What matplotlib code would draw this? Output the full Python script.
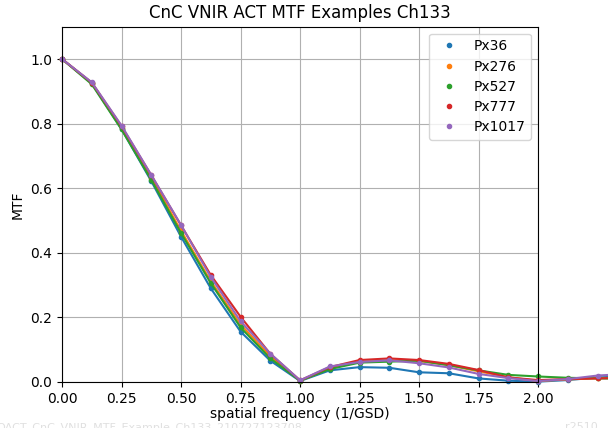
import numpy as np
import matplotlib
matplotlib.use('Agg')
import matplotlib.pyplot as plt

# spatial frequency samples (1/GSD)
freq = [0.0, 0.125, 0.25, 0.375, 0.5, 0.625, 0.75, 0.875, 1.0, 1.125,
        1.25, 1.375, 1.5, 1.625, 1.75, 1.875, 2.0, 2.125, 2.25, 2.375]

px36 = [1.0, 0.925, 0.783, 0.622, 0.450, 0.290, 0.156, 0.066, 0.003, 0.036,
        0.046, 0.044, 0.030, 0.027, 0.011, 0.004, 0.001, 0.006, 0.014, 0.018]
px276 = [1.0, 0.926, 0.788, 0.632, 0.468, 0.312, 0.178, 0.080, 0.004, 0.042,
         0.063, 0.068, 0.065, 0.052, 0.033, 0.015, 0.003, 0.008, 0.012, 0.014]
px527 = [1.0, 0.922, 0.782, 0.626, 0.461, 0.306, 0.169, 0.073, 0.004, 0.040,
         0.060, 0.063, 0.066, 0.052, 0.036, 0.022, 0.017, 0.013, 0.011, 0.010]
px777 = [1.0, 0.927, 0.792, 0.640, 0.485, 0.331, 0.202, 0.087, 0.005, 0.046,
         0.068, 0.073, 0.068, 0.056, 0.037, 0.014, 0.006, 0.009, 0.011, 0.013]
px1017 = [1.0, 0.928, 0.794, 0.641, 0.486, 0.325, 0.188, 0.088, 0.005, 0.048,
          0.062, 0.067, 0.058, 0.045, 0.025, 0.012, 0.003, 0.009, 0.020, 0.025]

series = [('Px36', px36), ('Px276', px276), ('Px527', px527),
          ('Px777', px777), ('Px1017', px1017)]

fig = plt.figure(figsize=(6.08, 4.28), dpi=100)
ax = fig.add_axes([0.102, 0.1075, 0.783, 0.83])

for i, (name, vals) in enumerate(series):
    c = 'C%d' % i
    ax.plot(freq, vals, '-', color=c, lw=1.5, clip_on=False)
    ax.plot(freq, vals, '.', color=c, ms=6, label=name, clip_on=False)

ax.set_xlim(0, 2.0)
ax.set_ylim(0, 1.1)
ax.set_xticks(np.arange(0, 2.01, 0.25))
ax.set_yticks(np.arange(0, 1.01, 0.2))
ax.grid(True)
ax.set_xlabel('spatial frequency (1/GSD)', labelpad=1)
ax.set_ylabel('MTF')
ax.set_title('CnC VNIR ACT MTF Examples Ch133')
ax.legend(loc='upper right', labelspacing=0.45)

# faint file tag and revision in the bottom corners
fig.text(-0.006, -0.004, 'QACT_CnC_VNIR_MTF_Example_Ch133_210727123708',
         fontsize=8, color='#e0e0e0', va='baseline')
fig.text(0.93, -0.004, 'r2510', fontsize=8, color='#e0e0e0', va='baseline')

fig.savefig('out.png', dpi=100)
